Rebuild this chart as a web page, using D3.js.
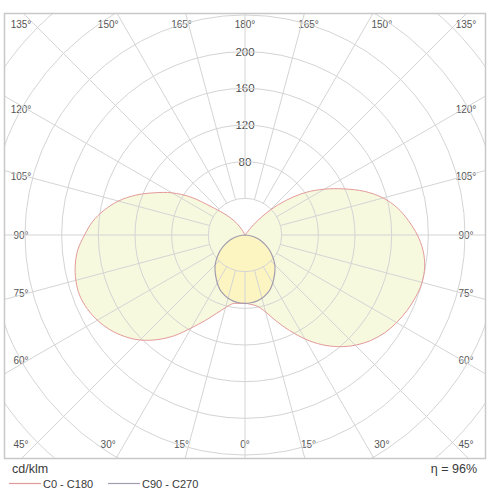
<!DOCTYPE html>
<html>
<head>
<meta charset="utf-8">
<script src="https://cdn.jsdelivr.net/npm/d3@7/dist/d3.min.js"></script>
<style>
  html, body { margin: 0; padding: 0; background: #fff; }
  svg { display: block; font-family: "Liberation Sans", Arial, sans-serif; }
</style>
</head>
<body>
<svg id="chart" width="500" height="500"></svg>
<script>
// ---- data (cd/klm) ----
const gammaDeg = d3.range(0, 181, 5);
const c0   = [74.5,76,79,87,100,115,131,146,159,170,179,186,191,195,198,200,199,195,188,179,169,156,139,119,100,81,59,37,15,0,0,0,0,0,0,0,0];
const c180 = [74.5,75,76,82,91,103,117,134,149,162,172,180,186,190,192,191,188,183,175,167,156,143,127,109,92,72,48,34,24,15,6,0,0,0,0,0,0];
const c90  = [74.5,74.2,73.2,71.4,68.7,65.2,60.5,55.5,50.8,46,40.5,35,29.5,24,18.5,13,8,3.5,0,0,0,0,0,0,0,0,0,0,0,0,0,0,0,0,0,0,0];
const c270 = [74.5,74.2,73.2,71.4,68.7,65.2,60.5,55.5,50.8,46,40.5,35,29.5,24,18.5,13,8,3.5,0,0,0,0,0,0,0,0,0,0,0,0,0,0,0,0,0,0,0];
const ringValues = [40,80,120,160,200,240,280,320,360];
const ringLabels = [80,120,160,200];
const angleTicks = [0,15,30,45,60,75,90,105,120,135,150,165,180];
const unitLabel = "cd/klm";
const effLabel = "η = 96%";
const seriesNames = ["C0 - C180", "C90 - C270"];

// ---- layout ----
const svg = d3.select("#chart");
const frame = {x: 4.5, y: 13.5, w: 481, h: 445};
const cx = 245, cy = 235;
const r = d3.scaleLinear().domain([0, 40]).range([0, 36.67]);
const rad = d => d * Math.PI / 180;

svg.append("defs").append("clipPath").attr("id", "clip")
  .append("rect").attr("x", frame.x).attr("y", frame.y).attr("width", frame.w).attr("height", frame.h);

const g = svg.append("g").attr("transform", `translate(${cx},${cy})`);
const clipG = svg.append("g").attr("clip-path", "url(#clip)")
  .append("g").attr("transform", `translate(${cx},${cy})`);

function curvePoints(right, left) {
  const pts = [];
  gammaDeg.forEach((gd, i) => pts.push({a: Math.PI - rad(gd), v: right[i]}));
  for (let i = gammaDeg.length - 1; i >= 1; i--) pts.push({a: Math.PI + rad(gammaDeg[i]), v: left[i]});
  return pts;
}
const line = d3.lineRadial().angle(d => d.a).radius(d => r(d.v))
  .curve(d3.curveCatmullRomClosed.alpha(0.5));

const ptsA = curvePoints(c0, c180);
const ptsB = curvePoints(c90, c270);

// fills
clipG.append("path").attr("d", line(ptsA)).attr("fill", "#f7f9df").attr("stroke", "none");
clipG.append("path").attr("d", line(ptsB)).attr("fill", "#fcf5c2").attr("stroke", "none");

// grid rings
clipG.selectAll("circle.ring").data(ringValues).join("circle")
  .attr("class", "ring").attr("r", d => r(d))
  .attr("fill", "none").attr("stroke", "#d4d4d4").attr("stroke-width", 1);

// radial lines every 15°
const spokes = d3.range(0, 360, 15);
clipG.selectAll("line.spoke").data(spokes).join("line")
  .attr("class", "spoke")
  .attr("x1", d => r(40) * Math.sin(rad(d)))
  .attr("y1", d => r(40) * Math.cos(rad(d)))
  .attr("x2", d => r(420) * Math.sin(rad(d)))
  .attr("y2", d => r(420) * Math.cos(rad(d)))
  .attr("stroke", "#d4d4d4").attr("stroke-width", 1);

// outlines
clipG.append("path").attr("d", line(ptsA)).attr("fill", "none").attr("stroke", "#e39a9a").attr("stroke-width", 1);
clipG.append("path").attr("d", line(ptsB)).attr("fill", "none").attr("stroke", "#a39cae").attr("stroke-width", 1.2);

// frame
svg.append("rect").attr("x", frame.x).attr("y", frame.y).attr("width", frame.w).attr("height", frame.h)
  .attr("fill", "none").attr("stroke", "#c8c8c8").attr("stroke-width", 1.5);

// ring labels
g.selectAll("text.rl").data(ringLabels).join("text")
  .attr("class", "rl")
  .attr("x", 0).attr("y", d => -r(d))
  .attr("text-anchor", "middle").attr("dominant-baseline", "central")
  .attr("font-size", 11.5).attr("fill", "#4a4a4a")
  .attr("stroke", "#fff").attr("stroke-width", 4).attr("paint-order", "stroke")
  .text(d => d);

// angle labels
const topY = 24 - cy, botY = 444 - cy, leftX = 21 - cx, rightX = 466 - cx;
const angleLabelPos = [];
angleTicks.forEach(a => {
  const sides = (a === 0 || a === 180) ? [1] : [-1, 1];
  sides.forEach(s => {
    const sn = Math.sin(rad(a)), cs = Math.cos(rad(a));
    let x, y;
    if (Math.abs(cs) > Math.abs(sn) + 1e-6) {
      y = cs > 0 ? botY : topY;
      x = s * 237 * Math.abs(sn / cs);
    } else if (Math.abs(sn) > Math.abs(cs) + 1e-6) {
      x = s > 0 ? rightX : leftX;
      y = 218 * cs / sn;
    } else {
      x = s > 0 ? rightX : leftX;
      y = cs > 0 ? botY : topY;
    }
    angleLabelPos.push({a, x, y});
  });
});
g.selectAll("text.al").data(angleLabelPos).join("text")
  .attr("class", "al")
  .attr("x", d => d.x).attr("y", d => d.y)
  .attr("text-anchor", "middle").attr("dominant-baseline", "central")
  .attr("font-size", 10).attr("fill", "#555")
  .attr("stroke", "#fff").attr("stroke-width", 4).attr("paint-order", "stroke")
  .text(d => d.a + "°");

// legend
svg.append("text").attr("x", 12).attr("y", 473).attr("font-size", 12.5).attr("fill", "#3a3a3a").text(unitLabel);
svg.append("text").attr("x", 477).attr("y", 473).attr("text-anchor", "end").attr("font-size", 12.5).attr("fill", "#3a3a3a").text(effLabel);
const legColors = ["#e39a9a", "#a39cae"];
const legX = [9, 108];
seriesNames.forEach((n, i) => {
  svg.append("line").attr("x1", legX[i]).attr("x2", legX[i] + 32).attr("y1", 483.5).attr("y2", 483.5)
    .attr("stroke", legColors[i]).attr("stroke-width", 1.2);
  svg.append("text").attr("x", legX[i] + 34).attr("y", 487.5).attr("font-size", 11).attr("fill", "#3a3a3a").text(n);
});
</script>
</body>
</html>
